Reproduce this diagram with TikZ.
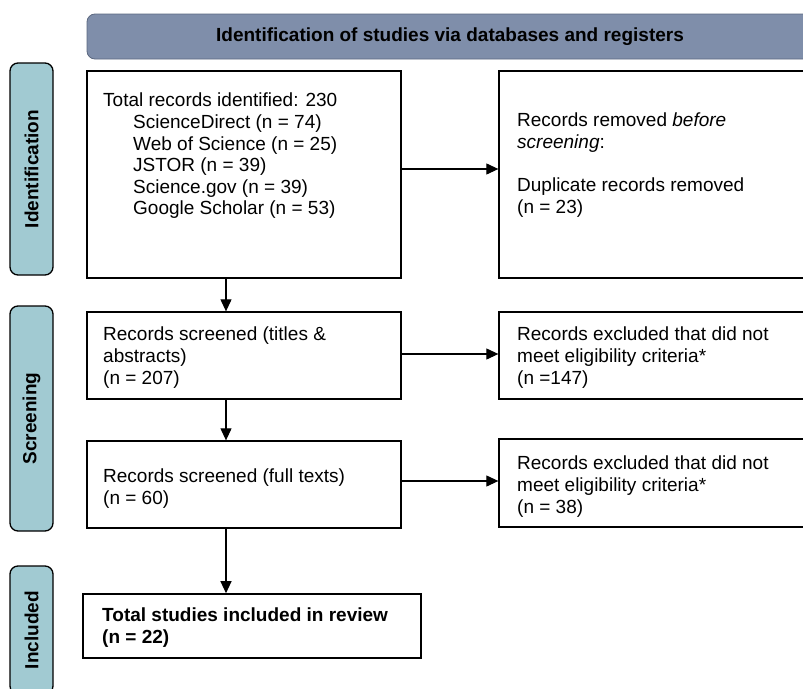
\documentclass[tikz,border=0pt]{standalone}
\usepackage{fontspec}
\setmainfont{Liberation Sans}
\usetikzlibrary{arrows.meta,positioning}

\definecolor{bannerfill}{RGB}{127,142,170}
\definecolor{bannerline}{RGB}{92,104,128}
\definecolor{phasefill}{RGB}{161,202,210}
\newcommand{\prismafont}{\fontsize{19}{21.6}\selectfont}

\begin{document}
\begin{tikzpicture}[x=1pt,y=-1pt,
  box/.style={draw,line width=1.3pt,inner sep=0pt,font=\prismafont},
  phase/.style={draw,line width=1.3pt,fill=phasefill,rounded corners=8pt,
    rotate=90,inner sep=0pt,minimum height=43pt,font=\prismafont\bfseries},
  txt/.style={anchor=north west,inner sep=0pt,align=left,font=\prismafont},
  arr/.style={line width=1.1pt,-{Triangle[length=12pt,width=11pt]}}]

\useasboundingbox (0,0) rectangle (803,688);
\clip (0,0) rectangle (803,688);

% banner
\node[draw=bannerline,line width=0.8pt,fill=bannerfill,rounded corners=8pt,
  minimum width=726pt,minimum height=45pt,inner sep=0pt,
  font=\prismafont\bfseries] (banner) at (450,36.5)
  {Identification of studies via databases and registers};

% phases
\node[phase,minimum width=212pt] (phaseid)   at (31.5,169)   {Identification};
\node[phase,minimum width=225pt] (phasescr)  at (31.5,418.5) {Screening};
\node[phase,minimum width=128pt] (phaseinc)  at (31.5,630)   {Included};

% boxes
\node[box,minimum width=314pt,minimum height=207pt] (ident)   at (244,174.5)   {};
\node[box,minimum width=321pt,minimum height=207pt] (removed) at (659.5,174.5) {};
\node[box,minimum width=314pt,minimum height=87pt]  (titles)  at (244,355.5)   {};
\node[box,minimum width=321pt,minimum height=87pt]  (exclA)   at (659.5,355.5) {};
\node[box,minimum width=314pt,minimum height=87pt]  (full)    at (244,484.5)   {};
\node[box,minimum width=321pt,minimum height=88pt]  (exclB)   at (659.5,483)   {};
\node[box,line width=1.6pt,minimum width=338pt,minimum height=64pt] (incl) at (252,626) {};

% texts
\node[txt] (identtxt) at (103,93) {Total records identified: 230\\
  \hspace*{30pt}ScienceDirect (n = 74)\\
  \hspace*{30pt}Web of Science (n = 25)\\
  \hspace*{30pt}JSTOR (n = 39)\\
  \hspace*{30pt}Science.gov (n = 39)\\
  \hspace*{30pt}Google Scholar (n = 53)};
\node[txt] (removedtxt) at (517,113) {Records removed \emph{before}\\
  \emph{screening}:\\[21.5pt]
  Duplicate records removed\\
  (n = 23)};
\node[txt] (titlestxt) at (103,327) {Records screened (titles \&\\
  abstracts)\\
  (n = 207)};
\node[txt] (exclAtxt) at (517,327) {Records excluded that did not\\
  meet eligibility criteria*\\
  (n =147)};
\node[txt] (fulltxt) at (103,469) {Records screened (full texts)\\
  (n = 60)};
\node[txt] (exclBtxt) at (517,456) {Records excluded that did not\\
  meet eligibility criteria*\\
  (n = 38)};
\node[txt,font=\prismafont\bfseries] (incltxt) at (102,608)
  {Total studies included in review\\(n = 22)};

% arrows
\coordinate (spine) at (226,0);
\draw[arr] (ident.south -| spine) -- (titles.north -| spine);
\draw[arr] (titles.south -| spine) -- (full.north -| spine);
\draw[arr] (full.south -| spine) -- (incl.north -| spine);
\draw[arr] ([yshift=5.5pt]ident.east) -- ([yshift=5.5pt]ident.east -| removed.west);
\draw[arr] ([yshift=1.5pt]titles.east) -- ([yshift=1.5pt]titles.east -| exclA.west);
\draw[arr] ([yshift=3.5pt]full.east) -- ([yshift=3.5pt]full.east -| exclB.west);

\end{tikzpicture}
\end{document}
